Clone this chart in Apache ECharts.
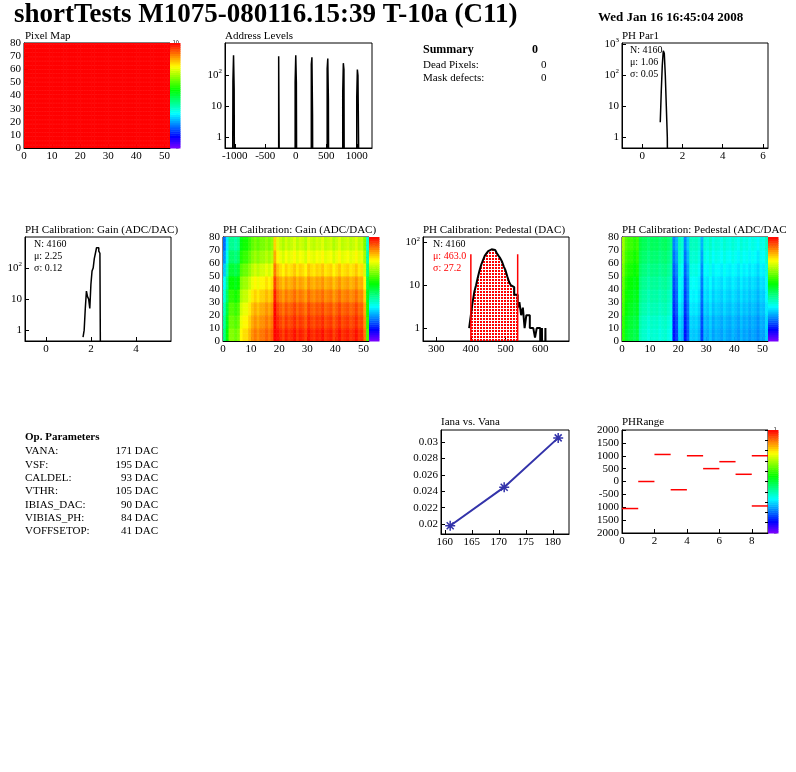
<!DOCTYPE html>
<html>
<head>
<meta charset="utf-8">
<script src="https://cdn.jsdelivr.net/npm/echarts@6/dist/echarts.min.js"></script>
<style>
  html, body { margin: 0; padding: 0; background: #fff; }
  #chart { width: 796px; height: 772px; }
</style>
</head>
<body>
<div id="chart"></div>
<script>
// ---- data ----
const addrEdges = [-1040, -1030, -1020, -1010, -1000, -280, -270, -260, -250, -10, 0, 10, 20, 255, 265, 275, 285, 515, 525, 535, 545, 770, 780, 790, 800, 1000, 1010, 1020, 1030, 1040];
const addrCounts = [0, 60, 430, 35, 0, 400, 400, 0, 0, 60, 430, 55, 0, 220, 370, 5, 0, 160, 340, 16, 0, 25, 240, 150, 0, 20, 150, 95, 0.6, 0];

const par1Edges = [0.9, 0.95, 1.0, 1.05, 1.1, 1.15, 1.2, 1.25, 1.3];
const par1Counts = [3, 30, 200, 600, 500, 100, 10, 1, 0];

const gainEdges = [1.65, 1.7, 1.75, 1.8, 1.85, 1.9, 1.95, 2.0, 2.05, 2.1, 2.15, 2.2, 2.25, 2.3, 2.35, 2.4, 2.45, 2.5];
const gainCounts = [0.6, 1, 5, 18, 12, 10, 5, 30, 80, 100, 200, 300, 450, 450, 350, 300, 0, 0];

const pedEdges = [395, 400, 405, 410, 415, 420, 425, 430, 435, 440, 445, 450, 455, 460, 465, 470, 475, 480, 485, 490, 495, 500, 505, 510, 515, 520, 525, 530, 535, 540, 545, 550, 555, 560, 565, 570, 575, 580, 585, 590, 595, 600, 605, 610, 615, 620];
const pedCounts = [1, 2, 4, 7, 10, 15, 22, 30, 38, 48, 55, 62, 68, 72, 66, 62, 55, 48, 42, 35, 27, 22, 16, 12, 10, 9, 6, 6, 3, 4, 2, 3, 1, 2, 2, 1, 1, 1, 0.6, 1, 1, 0, 1, 0, 1, 0];

// per-column and per-row-band levels of the 52x80 maps
const gainCol = [1.9, 2.0, 2.1, 2.1, 2.08, 2.1, 2.2, 2.22, 2.22, 2.25, 2.28, 2.3, 2.28, 2.3, 2.3, 2.32, 2.3, 2.32, 2.44, 2.38,
  2.36, 2.34, 2.37, 2.35, 2.36, 2.38, 2.35, 2.37, 2.36, 2.34, 2.38, 2.36, 2.35, 2.37, 2.36, 2.38, 2.35, 2.36, 2.37, 2.34,
  2.36, 2.38, 2.35, 2.36, 2.37, 2.35, 2.36, 2.38, 2.35, 2.36, 2.3, 2.05];
const gainRow = [0.08, 0.06, 0.04, 0.01, -0.02, -0.06, -0.1, -0.13];
const pedCol = [540, 525, 520, 520, 515, 520, 495, 490, 490, 485, 490, 488, 490, 485, 488, 490, 485, 480, 430, 440,
  470, 465, 430, 445, 470, 468, 470, 465, 440, 465, 462, 468, 460, 465, 463, 460, 466, 462, 460, 465, 462, 458,
  465, 460, 463, 458, 462, 460, 455, 462, 460, 470];
const pedRow = [-12, -10, -6, -3, 0, 4, 8, 12];

const ianaPoints = [[161, 0.0198], [171, 0.0245], [181, 0.0305]];
const phBins = [0, 1, 2, 3, 4, 5, 6, 7, 8, 8];
const phVals = [-1050, 0, 1050, -320, 1000, 500, 770, 280, 1000, -950];

const opNames = ['VANA:', 'VSF:', 'CALDEL:', 'VTHR:', 'IBIAS_DAC:', 'VIBIAS_PH:', 'VOFFSETOP:'];
const opValues = ['171 DAC', '195 DAC', '93 DAC', '105 DAC', '90 DAC', '84 DAC', '41 DAC'];

// ---- helpers ----
const FONT = '"Liberation Serif", "DejaVu Serif", serif';
const palette = [[127, 0, 255], [0, 0, 255], [0, 128, 255], [0, 255, 255], [0, 255, 128], [0, 255, 0], [128, 255, 0], [255, 255, 0], [255, 128, 0], [255, 0, 0]];
const LOWV = -5;

function paletteColor(v, min, max) {
  let t = (v - min) / (max - min);
  t = Math.max(0, Math.min(1, t)) * (palette.length - 1);
  const k = Math.min(palette.length - 2, Math.floor(t));
  const f = t - k;
  const c = palette[k].map((a, i) => Math.round(a + (palette[k + 1][i] - a) * f));
  return 'rgb(' + c.join(',') + ')';
}

const grids = [];
const xAxes = [];
const yAxes = [];
const series = [];
const graphics = [];

function addGrid(left, top, width, height) {
  grids.push({ left: left, top: top, width: width, height: height, show: true, borderColor: '#000', borderWidth: 1, backgroundColor: 'transparent' });
  return grids.length - 1;
}

function valAxis(gi, min, max, ticks, fmt) {
  return {
    type: 'value', gridIndex: gi, min: min, max: max,
    axisLine: { show: true, onZero: false, lineStyle: { color: '#000' } },
    axisTick: { inside: true, length: 4, customValues: ticks, lineStyle: { color: '#000' } },
    axisLabel: { customValues: ticks, color: '#000', fontFamily: FONT, fontSize: 11, margin: 3, formatter: fmt || (v => String(v)) },
    splitLine: { show: false }
  };
}

function logFmt(v) {
  if (v === 0) return '1';
  if (v === 1) return '10';
  return '10{s|' + v + '}';
}

function logAxis(gi, min, max, ticks) {
  const a = valAxis(gi, min, max, ticks, logFmt);
  a.axisLabel.rich = { s: { fontSize: 7, fontFamily: FONT, padding: [0, 0, 7, 0], color: '#000' } };
  return a;
}

function addHist(gi, edges, counts, width) {
  const pts = edges.map((e, i) => [e, counts[i] > 0 ? Math.log10(counts[i]) : LOWV]);
  series.push({
    type: 'line', xAxisIndex: gi, yAxisIndex: gi, step: 'end', data: pts, symbol: 'none',
    clip: true, lineStyle: { color: '#000', width: width || 1.5 }, silent: true
  });
}

function rectItem(min, max) {
  return function (params, api) {
    const p0 = api.coord([api.value(0), api.value(1)]);
    const p1 = api.coord([api.value(2), api.value(3)]);
    return {
      type: 'rect',
      shape: { x: p0[0], y: p1[1], width: p1[0] - p0[0] + 0.5, height: p0[1] - p1[1] + 0.5 },
      style: { fill: paletteColor(api.value(4), min, max) }
    };
  };
}

function addMap(gi, cols, rows, min, max, valueOf) {
  const data = [];
  for (let i = 0; i < cols; i++) {
    for (let j = 0; j < rows; j++) data.push([i, j, i + 1, j + 1, valueOf(i, j)]);
  }
  series.push({
    type: 'custom', xAxisIndex: gi, yAxisIndex: gi, data: data, clip: true, silent: true,
    progressive: 0, renderItem: rectItem(min, max)
  });
}

function colorBar(left, top, height, min, max, ticks) {
  const gi = addGrid(left, top, 10, height);
  grids[gi].show = false;
  xAxes.push({ type: 'value', gridIndex: gi, min: 0, max: 1, show: false });
  yAxes.push({
    type: 'value', gridIndex: gi, min: min, max: max, position: 'right',
    axisLine: { show: false }, splitLine: { show: false },
    axisTick: { inside: true, length: 3, customValues: ticks, lineStyle: { color: '#000' } },
    axisLabel: { inside: true, customValues: ticks, fontSize: 5, color: '#000', fontFamily: 'DejaVu Sans', margin: 1, formatter: v => String(v) }
  });
  const bands = [];
  const n = 50;
  for (let k = 0; k < n; k++) {
    const lo = min + (max - min) * k / n;
    const hi = min + (max - min) * (k + 1) / n;
    bands.push([0, lo, 1, hi, (lo + hi) / 2]);
  }
  series.push({ type: 'custom', xAxisIndex: gi, yAxisIndex: gi, data: bands, silent: true, progressive: 0, renderItem: rectItem(min, max) });
}

function text(x, y, s, opts) {
  graphics.push({ type: 'text', left: x, top: y, style: Object.assign({ text: s, fill: '#000', font: '11px ' + FONT }, opts || {}) });
}

const dec10 = [0, 10, 20, 30, 40, 50];
const dec80 = [0, 10, 20, 30, 40, 50, 60, 70, 80];

// Pixel map
let g = addGrid(24, 43, 146, 105);
xAxes.push(valAxis(g, 0, 52, dec10));
yAxes.push(valAxis(g, 0, 80, dec80));
addMap(g, 52, 80, 0, 10, () => 10);
colorBar(170, 43, 105, 0, 10, [0, 1, 2, 3, 4, 5, 6, 7, 8, 9, 10]);

// Address levels
g = addGrid(225, 43, 147, 105);
xAxes.push(valAxis(g, -1160, 1250, [-1000, -500, 0, 500, 1000]));
yAxes.push(logAxis(g, -0.35, 3.03, [0, 1, 2]));
addHist(g, addrEdges, addrCounts);

// PH Par1
g = addGrid(622, 43, 146, 105);
xAxes.push(valAxis(g, -1, 6.25, [0, 2, 4, 6]));
yAxes.push(logAxis(g, -0.35, 3.03, [0, 1, 2, 3]));
addHist(g, par1Edges, par1Counts);

// Gain hist
g = addGrid(25, 237, 146, 104);
xAxes.push(valAxis(g, -0.93, 5.56, [0, 2, 4]));
yAxes.push(logAxis(g, -0.35, 3.0, [0, 1, 2]));
addHist(g, gainEdges, gainCounts);

// Gain map
g = addGrid(223, 237, 146, 104);
xAxes.push(valAxis(g, 0, 52, dec10));
yAxes.push(valAxis(g, 0, 80, dec80));
addMap(g, 52, 80, 1.59, 2.47, (i, j) => gainCol[i] + gainRow[Math.floor(j / 10)]);
colorBar(369, 237, 104, 1.59, 2.47, [1.7, 1.8, 1.9, 2, 2.1, 2.2, 2.3, 2.4]);

// Pedestal hist
g = addGrid(423, 237, 146, 104);
xAxes.push(valAxis(g, 262, 683, [300, 400, 500, 600]));
yAxes.push(logAxis(g, -0.3, 2.12, [0, 1, 2]));
const dots = document.createElement('canvas');
dots.width = 3; dots.height = 3;
const dctx = dots.getContext('2d');
dctx.fillStyle = '#ff0000';
dctx.fillRect(0, 0, 2, 2);
const fillPts = [];
pedEdges.forEach((e, i) => { if (e >= 400 && e <= 535) fillPts.push([e, pedCounts[i] > 0 ? Math.log10(pedCounts[i]) : LOWV]); });
series.push({
  type: 'line', xAxisIndex: g, yAxisIndex: g, step: 'end', data: fillPts, symbol: 'none', clip: true, silent: true,
  lineStyle: { width: 0 }, areaStyle: { color: { image: dots, repeat: 'repeat' }, opacity: 1, origin: 'start' }
});
addHist(g, pedEdges, pedCounts, 2);
[400, 535].forEach(x => series.push({
  type: 'line', xAxisIndex: g, yAxisIndex: g, data: [[x, -0.3], [x, 1.72]], symbol: 'none', silent: true,
  lineStyle: { color: '#ff0000', width: 1.5 }
}));

// Pedestal map
g = addGrid(622, 237, 146, 104);
xAxes.push(valAxis(g, 0, 52, dec10));
yAxes.push(valAxis(g, 0, 80, dec80));
addMap(g, 52, 80, 389, 625, (i, j) => pedCol[i] + pedRow[Math.floor(j / 10)]);
colorBar(768, 237, 104, 389, 625, [400, 450, 500, 550, 600]);

// Iana vs Vana
g = addGrid(441, 430, 128, 104);
xAxes.push(valAxis(g, 159.3, 183, [160, 165, 170, 175, 180]));
yAxes.push(valAxis(g, 0.0188, 0.03146, [0.02, 0.022, 0.024, 0.026, 0.028, 0.03]));
series.push({
  type: 'line', xAxisIndex: g, yAxisIndex: g, data: ianaPoints, silent: true,
  symbol: 'path://M0,-10 L0,10 M-10,0 L10,0 M-7,-7 L7,7 M-7,7 L7,-7', symbolSize: 10,
  lineStyle: { color: '#3333aa', width: 2 }, itemStyle: { color: '#3333aa', borderColor: '#3333aa', borderWidth: 1.5 }
});

// PHRange
g = addGrid(622, 430, 146, 103);
xAxes.push(valAxis(g, 0, 9, [0, 2, 4, 6, 8]));
yAxes.push(valAxis(g, -2000, 2000, [-2000, -1500, -1000, -500, 0, 500, 1000, 1500, 2000],
  v => (v < -500 ? String(-v) : String(v))));
series.push({
  type: 'custom', xAxisIndex: g, yAxisIndex: g, data: phBins.map((b, i) => [b, phVals[i]]), silent: true,
  renderItem: function (params, api) {
    const p0 = api.coord([api.value(0), api.value(1)]);
    const p1 = api.coord([api.value(0) + 1, api.value(1)]);
    return { type: 'line', shape: { x1: p0[0], y1: p0[1], x2: p1[0], y2: p1[1] }, style: { stroke: '#ff0000', lineWidth: 1.5 } };
  }
});
colorBar(768, 430, 103, 0, 1, [0, 0.1, 0.2, 0.3, 0.4, 0.5, 0.6, 0.7, 0.8, 0.9, 1]);

// ---- texts ----
text(14, 2, 'shortTests M1075-080116.15:39 T-10a (C11)', { font: 'bold 27px ' + FONT });
text(598, 11, 'Wed Jan 16 16:45:04 2008', { font: 'bold 13px ' + FONT });
text(25, 31, 'Pixel Map');
text(225, 31, 'Address Levels');
text(622, 31, 'PH Par1');
text(25, 225, 'PH Calibration: Gain (ADC/DAC)');
text(223, 225, 'PH Calibration: Gain (ADC/DAC)');
text(423, 225, 'PH Calibration: Pedestal (DAC)');
text(622, 225, 'PH Calibration: Pedestal (ADC/DAC');
text(441, 417, 'Iana vs. Vana');
text(622, 417, 'PHRange');

text(423, 44, 'Summary', { font: 'bold 12px ' + FONT });
text(532, 44, '0', { font: 'bold 12px ' + FONT });
text(423, 60, 'Dead Pixels:');
text(541, 60, '0');
text(423, 73, 'Mask defects:');
text(541, 73, '0');

text(630, 45, 'N: 4160', { font: '10px ' + FONT });
text(630, 57, 'μ: 1.06', { font: '10px ' + FONT });
text(630, 69, 'σ: 0.05', { font: '10px ' + FONT });
text(34, 239, 'N: 4160', { font: '10px ' + FONT });
text(34, 251, 'μ: 2.25', { font: '10px ' + FONT });
text(34, 263, 'σ: 0.12', { font: '10px ' + FONT });
text(433, 239, 'N: 4160', { font: '10px ' + FONT });
text(433, 251, 'μ: 463.0', { font: '10px ' + FONT, fill: '#ff0000' });
text(433, 263, 'σ: 27.2', { font: '10px ' + FONT, fill: '#ff0000' });

text(25, 432, 'Op. Parameters', { font: 'bold 11px ' + FONT });
opNames.forEach((nm, i) => {
  text(25, 446 + i * 13.3, nm);
  graphics.push({ type: 'text', right: 796 - 158, top: 446 + i * 13.3, style: { text: opValues[i], fill: '#000', font: '11px ' + FONT } });
});

const chart = echarts.init(document.getElementById('chart'), null, { renderer: 'canvas' });
chart.setOption({
  animation: false,
  backgroundColor: '#fff',
  grid: grids,
  xAxis: xAxes,
  yAxis: yAxes,
  series: series,
  graphic: graphics
});
</script>
</body>
</html>
